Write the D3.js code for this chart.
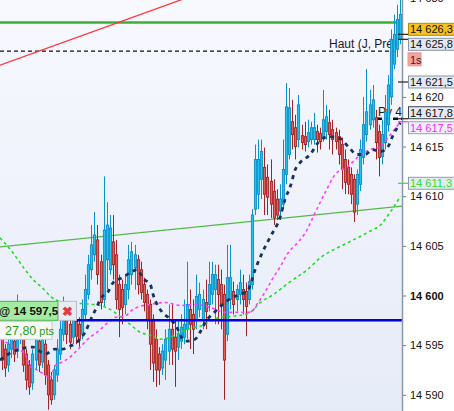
<!DOCTYPE html>
<html><head><meta charset="utf-8">
<script src="https://cdn.jsdelivr.net/npm/d3@7"></script>
<style>
html,body{margin:0;padding:0;background:#fff;}
svg{display:block;font-family:"Liberation Sans",Arial,sans-serif;}
</style></head><body>
<svg id="c" width="454" height="411"></svg>
<script>
// ---- data ----
const opens = [14595.6,14594.6,14593.0,14594.6,14595.4,14594.4,14595.6,14596.6,14594.1,14593.0,
14591.2,14593.5,14595.4,14593.3,14595.1,14593.0,14591.5,14590.0,14592.0,14594.1,
14596.1,14597.8,14597.1,14595.8,14597.4,14597.1,14596.1,14598.1,14600.1,14602.6,
14604.1,14605.6,14603.4,14599.6,14603.6,14602.6,14605.4,14604.1,14601.1,14600.6,
14599.1,14600.6,14602.1,14602.8,14603.6,14602.6,14601.1,14600.1,14599.1,14597.6,
14595.6,14594.1,14592.7,14593.5,14594.4,14596.6,14595.8,14594.8,14595.4,14595.8,
14596.6,14598.6,14598.1,14597.6,14598.6,14597.6,14599.3,14599.1,14600.1,14600.6,
14601.6,14601.1,14600.1,14596.1,14599.6,14600.4,14599.6,14600.1,14600.6,14600.4,
14599.6,14601.1,14608.7,14610.2,14611.7,14612.9,14611.9,14611.5,14610.5,14609.7,
14608.5,14609.2,14612.2,14614.2,14617.5,14616.9,14615.7,14616.1,14616.0,14615.5,
14615.7,14615.7,14616.5,14616.3,14616.0,14616.5,14617.4,14616.7,14616.4,14616.0,
14615.2,14613.7,14612.9,14612.2,14611.7,14609.2,14611.2,14613.9,14616.2,14617.2,
14617.7,14617.9,14616.5,14614.0,14615.4,14617.2,14620.0,14623.3,14624.8,14625.8];
const highs = [14596.1,14595.1,14595.8,14596.6,14596.0,14600.1,14598.6,14597.6,14594.6,14593.5,
14594.6,14596.6,14596.1,14597.1,14595.6,14593.5,14592.3,14593.0,14595.6,14598.1,
14599.9,14598.6,14597.8,14598.6,14598.4,14597.8,14599.6,14602.1,14604.1,14607.1,
14608.4,14607.1,14604.1,14612.0,14609.4,14608.1,14608.1,14605.6,14602.1,14601.6,
14602.1,14605.1,14605.4,14605.1,14604.1,14603.4,14601.8,14600.6,14599.6,14598.1,
14596.6,14594.8,14595.1,14596.6,14599.1,14599.1,14597.6,14597.6,14598.1,14599.6,
14603.4,14600.6,14599.6,14602.1,14601.3,14600.6,14601.6,14603.4,14603.4,14603.1,
14603.1,14602.6,14601.1,14605.1,14605.1,14601.4,14601.1,14602.6,14602.1,14601.3,
14602.1,14608.7,14615.2,14615.7,14615.7,14614.9,14613.2,14613.7,14611.7,14610.7,
14611.2,14615.7,14621.4,14620.9,14619.7,14618.2,14620.2,14617.2,14617.5,14617.7,
14617.5,14618.4,14617.2,14616.9,14620.7,14619.2,14618.7,14617.7,14616.9,14616.7,
14615.9,14614.7,14613.7,14612.9,14612.2,14612.7,14615.7,14620.0,14622.8,14620.7,
14621.2,14618.7,14617.2,14617.7,14620.2,14622.2,14626.8,14628.3,14629.3,14630.3];
const lows = [14592.5,14591.8,14592.3,14593.7,14593.3,14593.7,14595.1,14592.3,14590.5,14590.0,
14590.5,14592.5,14592.3,14592.7,14591.0,14588.5,14589.0,14589.5,14591.3,14593.5,
14595.4,14595.1,14594.6,14595.1,14595.1,14594.8,14595.6,14597.6,14599.6,14601.6,
14603.4,14601.1,14598.6,14598.9,14600.6,14602.1,14601.6,14598.6,14595.8,14597.1,
14598.1,14599.6,14601.1,14600.6,14600.1,14599.6,14598.4,14596.6,14592.5,14591.3,
14590.8,14591.0,14592.0,14591.5,14593.0,14593.0,14590.8,14593.5,14594.6,14595.1,
14595.6,14594.6,14594.1,14596.6,14597.8,14596.6,14596.6,14598.4,14599.1,14597.1,
14597.1,14596.6,14589.5,14595.4,14598.6,14598.1,14598.4,14599.1,14598.1,14595.9,
14599.1,14600.6,14608.1,14608.7,14609.7,14608.1,14608.1,14607.8,14607.1,14607.6,
14607.6,14608.7,14611.2,14613.7,14614.7,14613.7,14614.9,14614.7,14614.5,14614.9,
14615.2,14615.2,14614.4,14614.7,14615.5,14615.7,14614.7,14614.2,14614.7,14613.2,
14610.7,14610.2,14610.2,14609.2,14607.4,14608.1,14610.5,14613.2,14615.5,14616.7,
14616.9,14613.7,14612.0,14613.2,14614.7,14616.5,14619.2,14622.8,14624.0,14625.3];
const closes = [14593.5,14592.7,14595.1,14595.6,14594.1,14596.6,14597.1,14593.0,14591.5,14590.8,
14594.1,14595.6,14593.0,14595.8,14592.0,14590.0,14589.5,14592.5,14594.6,14596.6,
14598.1,14596.1,14595.3,14597.6,14595.9,14595.6,14598.6,14600.6,14603.1,14605.1,
14606.1,14602.1,14599.3,14606.6,14607.1,14606.8,14603.1,14599.6,14598.6,14598.8,
14601.1,14603.6,14604.4,14604.1,14601.1,14600.3,14599.3,14597.6,14595.1,14593.2,
14592.5,14592.5,14594.4,14595.6,14596.6,14594.6,14594.4,14596.1,14596.8,14597.1,
14599.1,14597.1,14596.6,14599.9,14600.1,14599.6,14598.4,14601.1,14602.1,14602.1,
14600.1,14599.1,14593.5,14601.8,14601.8,14599.1,14600.6,14601.3,14599.6,14598.9,
14601.4,14608.1,14613.7,14613.7,14614.5,14610.2,14609.9,14609.2,14607.8,14608.1,
14609.7,14612.7,14619.0,14618.9,14616.2,14615.0,14619.2,14615.4,14615.2,14616.4,
14616.9,14616.9,14615.7,14615.5,14617.7,14618.0,14616.2,14615.7,14615.5,14614.2,
14612.7,14611.4,14611.2,14610.2,14608.4,14612.2,14614.7,14617.2,14618.5,14619.2,
14619.7,14615.4,14613.9,14616.2,14618.5,14621.2,14625.8,14626.3,14627.8,14628.3];

// moving averages: [bar index, price]
const maNavy = [[-0.5,14593.5],[2.8,14594.2],[6.0,14594.6],[10.2,14594.8],[14.1,14594.1],[17.3,14594.6],
[19.6,14594.6],[22.2,14594.9],[25.4,14595.6],[27.0,14596.3],[29.3,14597.9],[30.9,14598.9],[31.9,14599.6],
[34.5,14600.4],[36.1,14601.3],[39.0,14601.8],[41.6,14602.3],[43.9,14602.6],[45.8,14601.7],[48.1,14601.1],
[49.0,14600.1],[52.0,14598.3],[53.9,14597.8],[56.1,14597.1],[59.4,14595.4],[62.6,14595.6],[64.2,14596.3],
[65.9,14597.3],[69.1,14598.4],[72.3,14599.3],[74.6,14599.8],[77.2,14600.1],[79.8,14600.6],[82.0,14602.6],
[84.3,14604.3],[86.9,14605.9],[90.1,14607.9],[91.7,14609.7],[93.4,14611.0],[95.0,14612.7],[96.6,14613.4],
[99.8,14614.2],[102.4,14615.4],[105.7,14616.0],[109.5,14615.8],[112.1,14615.0],[115.0,14614.2],
[117.6,14614.2],[119.9,14614.7],[122.5,14614.5],[124.8,14614.9],[126.7,14616.2],[129.0,14617.4]];
const maMagenta = [[-0.5,14595.6],[5.3,14594.6],[7.6,14594.1],[9.2,14592.9],[11.5,14592.5],[14.1,14592.0],
[15.7,14591.7],[17.3,14592.9],[19.6,14593.3],[22.2,14593.8],[25.4,14594.8],[28.6,14595.8],[30.9,14596.3],
[34.5,14597.3],[36.7,14597.8],[40.0,14597.9],[41.6,14598.4],[44.8,14598.9],[48.1,14599.1],[52.9,14599.3],
[57.8,14599.0],[62.6,14599.1],[67.5,14598.8],[72.3,14598.3],[77.2,14598.3],[80.4,14598.3],[83.0,14599.3],
[85.3,14600.4],[87.5,14601.6],[90.1,14602.9],[92.7,14604.3],[96.0,14605.4],[98.2,14606.3],[101.5,14608.4],
[104.7,14610.4],[107.9,14612.2],[112.1,14613.0],[115.4,14614.0],[119.3,14614.7],[122.5,14615.0],
[125.7,14616.2],[129.0,14617.5]];
const maGreen = [[-0.5,14605.8],[3.7,14604.3],[7.6,14602.6],[10.2,14601.6],[13.1,14600.8],[16.3,14599.8],
[20.6,14599.3],[25.4,14599.2],[31.9,14599.0],[35.1,14598.6],[38.3,14597.9],[41.6,14597.1],[44.8,14596.3],
[48.1,14596.0],[51.3,14595.6],[54.5,14595.8],[57.8,14596.3],[61.0,14596.7],[64.2,14596.9],[67.5,14597.4],
[70.7,14597.8],[74.0,14597.9],[78.8,14598.1],[80.4,14598.3],[83.7,14599.3],[87.9,14600.1],[93.4,14601.4],
[98.9,14602.6],[103.1,14603.8],[108.6,14604.8],[113.8,14605.6],[119.3,14606.5],[122.5,14607.1],
[125.7,14608.4],[129.0,14610.0]];

const redTrend = [[-0.5,14623.2],[129.5,14637.8]];
const greenTrend = [[-0.5,14604.9],[129.5,14609.0]];
const greenLevel = 14627.5;
const prevHigh = 14624.6;
const pivotLevel = 14617.8;
const stopLevel = 14597.5;
const stopPts = 27.80;
const yTicks = [14590,14595,14600,14605,14610,14615,14620,14630];
const tags = [
  {v:14626.3, fill:'#f8c21d', stroke:'#b38a10', color:'#111'},
  {v:14625.8, fill:'#e3e8f0', stroke:'#8796a8', color:'#111'},
  {v:14621.5, fill:'#e2e9f5', stroke:'#8796a8', color:'#111'},
  {v:14617.8, fill:'#e6eaf2', stroke:'#3c4652', color:'#111'},
  {v:14617.5, fill:'#eeeef8', stroke:'#9aa0b8', color:'#ff2cff'},
  {v:14611.3, fill:'#e3ecef', stroke:'#8fa0a8', color:'#2fe02f'}
];

// ---- drawing ----
const W=454, H=411, PW=402;
const svg = d3.select('#c');
const x = d3.scaleLinear().domain([-0.5,129.5]).range([0,PW]);
const y = d3.scaleLinear().domain([14590,14630]).range([394.8,-2.4]);
const step = x(1)-x(0);
const fmtP = v => d3.format(',.1f')(v).replace(',', ' ').replace('.', ',');
const fmtT = v => d3.format(',')(v).replace(',', ' ');

const defs = svg.append('defs');
const g1 = defs.append('linearGradient').attr('id','bg').attr('x1',0).attr('y1',0).attr('x2',0).attr('y2',1);
g1.append('stop').attr('offset',0).attr('stop-color','#f8f9ff');
g1.append('stop').attr('offset',1).attr('stop-color','#e6ebf8');
defs.append('clipPath').attr('id','clip').append('rect').attr('width',PW).attr('height',H);

svg.append('rect').attr('width',W).attr('height',H).attr('fill','#fff');
svg.append('rect').attr('width',PW).attr('height',H).attr('fill','url(#bg)');

const plot = svg.append('g').attr('clip-path','url(#clip)');
const line = d3.line().x(d=>x(d[0])).y(d=>y(d[1]));

// level lines & trend lines
plot.append('line').attr('x1',0).attr('x2',PW).attr('y1',y(greenLevel)).attr('y2',y(greenLevel))
  .attr('stroke','#3cb034').attr('stroke-width',2.5);
plot.append('line').attr('x1',0).attr('x2',PW-5).attr('y1',y(prevHigh)).attr('y2',y(prevHigh))
  .attr('stroke','#111').attr('stroke-width',1.3).attr('stroke-dasharray','4,3');
plot.append('path').attr('d',line(redTrend)).attr('fill','none').attr('stroke','#ff3838').attr('stroke-width',1.3);
plot.append('path').attr('d',line(greenTrend)).attr('fill','none').attr('stroke','#55b84a').attr('stroke-width',1.3);

plot.append('text').attr('x',397).attr('y',y(prevHigh)-3).attr('text-anchor','end')
  .attr('font-size',12).attr('fill','#1a1a1a').text('Haut (J, Pré)');
plot.append('text').attr('x',378).attr('y',y(pivotLevel)-3)
  .attr('font-size',12).attr('fill','#1a1a1a').text('Pv 4');
plot.append('line').attr('x1',377).attr('x2',PW).attr('y1',y(pivotLevel)).attr('y2',y(pivotLevel))
  .attr('stroke','#111').attr('stroke-width',2.5).attr('stroke-dasharray','5,3');

// candles
const bars = d3.range(closes.length).map(i=>({i,o:opens[i],h:highs[i],l:lows[i],c:closes[i]}));
const bw = step*0.72;
const cg = plot.append('g');
cg.selectAll('line.w').data(bars).join('line')
  .attr('x1',d=>Math.round(x(d.i))+0.5).attr('x2',d=>Math.round(x(d.i))+0.5)
  .attr('y1',d=>y(d.h)).attr('y2',d=>y(d.l))
  .attr('stroke',d=>d.c>=d.o?'#0a93cb':'#a32222').attr('stroke-width',1);
cg.selectAll('rect').data(bars).join('rect')
  .attr('x',d=>Math.round(x(d.i))+0.5-bw/2).attr('width',bw)
  .attr('y',d=>y(Math.max(d.o,d.c))).attr('height',d=>Math.max(1,Math.abs(y(d.o)-y(d.c))))
  .attr('fill',d=>d.c>=d.o?'#22c0ef':'#e45f5b')
  .attr('stroke',d=>d.c>=d.o?'#0a8fc6':'#a52424').attr('stroke-width',0.9);

// moving averages
const curve = d3.line().x(d=>x(d[0])).y(d=>y(d[1])).curve(d3.curveMonotoneX);
plot.append('path').attr('d',curve(maGreen)).attr('fill','none').attr('stroke','#22dd22')
  .attr('stroke-width',1.6).attr('stroke-dasharray','3,3');
plot.append('path').attr('d',curve(maMagenta)).attr('fill','none').attr('stroke','#ff3cff')
  .attr('stroke-width',1.6).attr('stroke-dasharray','3,3');
plot.append('path').attr('d',curve(maNavy)).attr('fill','none').attr('stroke','#17325c')
  .attr('stroke-width',2.8).attr('stroke-dasharray','4,4.5');

// stop line
plot.append('line').attr('x1',76).attr('x2',PW).attr('y1',y(stopLevel)).attr('y2',y(stopLevel))
  .attr('stroke','#0000e8').attr('stroke-width',2.5);

// axis
const ax = svg.append('g').attr('transform',`translate(${PW},0)`)
  .call(d3.axisRight(y).tickValues(yTicks).tickSize(4).tickPadding(4).tickFormat(fmtT));
ax.select('.domain').remove();
ax.selectAll('.tick line').attr('stroke','#6d7a88');
ax.selectAll('.tick text').attr('font-size',11).attr('fill','#111')
  .attr('font-family','"Liberation Sans",Arial,sans-serif')
  .attr('font-weight',d=>d===14600?'bold':'normal');
svg.append('line').attr('x1',PW+0.5).attr('x2',PW+0.5).attr('y1',0).attr('y2',H)
  .attr('stroke','#8a97a6').attr('stroke-width',1.5);

// price tags with simple overlap resolution
const TH = 12, SEP = 15;
let items = tags.map(t=>({...t, yy:y(t.v)})).sort((a,b)=>a.yy-b.yy);
let clusters = items.map(t=>({list:[t], top:t.yy}));
let merged = true;
while(merged){
  merged=false;
  for(let k=0;k<clusters.length-1;k++){
    const a=clusters[k], b=clusters[k+1];
    if(a.top + a.list.length*SEP > b.top){
      const list=a.list.concat(b.list);
      const top=d3.mean(list,(t,j)=>t.yy-j*SEP);
      clusters.splice(k,2,{list,top}); merged=true; break;
    }
  }
}
clusters.forEach(c=>c.list.forEach((t,j)=>t.cy=c.top+j*SEP));

const tg = svg.append('g');
items.forEach(t=>{
  tg.append('line').attr('x1',PW-4).attr('x2',PW+6).attr('y1',y(t.v)).attr('y2',y(t.v))
    .attr('stroke',t.color==='#111'?'#222':t.color).attr('stroke-width',1.2);
  tg.append('rect').attr('x',408.5).attr('y',t.cy-TH/2).attr('width',50).attr('height',TH)
    .attr('fill',t.fill).attr('stroke',t.stroke).attr('stroke-width',1);
  tg.append('text').attr('x',410).attr('y',t.cy+4).attr('font-size',11).attr('fill',t.color).text(fmtP(t.v));
});
// "1s" badge under the 14 625,8 tag
const t258 = items.find(t=>t.v===14625.8);
const sY = Math.max(y(prevHigh), t258.cy+SEP);
tg.append('rect').attr('x',408).attr('y',sY-6.5).attr('width',13).attr('height',13)
  .attr('fill','#f4a3a3').attr('stroke','#eb9595');
tg.append('text').attr('x',410).attr('y',sY+4.2).attr('font-size',11).attr('fill','#3a2020').text('1s');

// stop order label
const sy = y(stopLevel);
const og = svg.append('g');
og.append('rect').attr('x',-1).attr('y',sy-19).attr('width',59).attr('height',19)
  .attr('fill','#a3eba0').attr('stroke','#49b547').attr('stroke-width',1);
og.append('text').attr('x',-1).attr('y',sy-5).attr('font-size',11.5).attr('font-weight','bold')
  .attr('fill','#111').text('@ ' + fmtP(stopLevel));
og.append('rect').attr('x',58.5).attr('y',sy-19).attr('width',18).attr('height',19)
  .attr('fill','#e9ecf3').attr('stroke','#b5bcc6');
og.append('text').attr('x',67.5).attr('y',sy-4.5).attr('text-anchor','middle').attr('font-size',13)
  .attr('font-weight','bold').attr('fill','#e23c3c').text('✖');
og.append('rect').attr('x',-1).attr('y',sy+1).attr('width',53).attr('height',18)
  .attr('fill','#f7f9f7').attr('stroke','#c3cac8');
const pt = og.append('text').attr('x',5).attr('y',sy+14.5).attr('fill','#1f9e22');
pt.append('tspan').attr('font-size',12.5).text(d3.format('.2f')(stopPts).replace('.',','));
pt.append('tspan').attr('font-size',11).text(' pts');
</script>
</body></html>
